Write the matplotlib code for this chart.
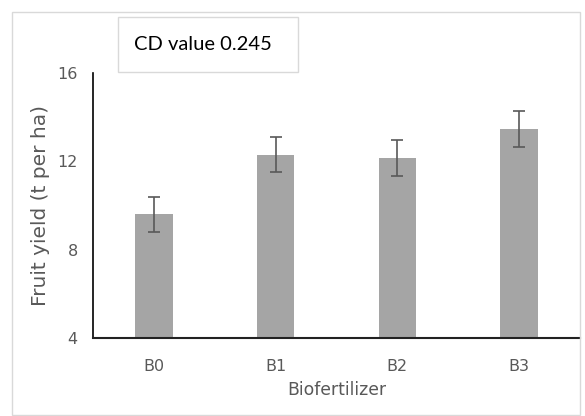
import matplotlib.pyplot as plt
from matplotlib.patches import Rectangle

categories = ["B0", "B1", "B2", "B3"]
yields = [9.6, 12.3, 12.15, 13.45]
errors = [0.8, 0.8, 0.82, 0.82]
yticks = [4, 8, 12, 16]

plt.rcParams['font.family'] = ['DejaVu Sans']

W, H = 585, 416
fig = plt.figure(figsize=(W / 100, H / 100), dpi=100)

# outer chart frame
fig.patches.append(Rectangle((12 / W, 1 / H), 568 / W, 403 / H,
                             transform=fig.transFigure, fill=False,
                             edgecolor="#d9d9d9", linewidth=1))

ax = fig.add_axes([93 / W, 78 / H, 487 / W, 265 / H])
x = range(len(categories))
ax.bar(x, yields, width=0.31, color="#a5a5a5", zorder=2)
ax.errorbar(x, yields, yerr=errors, fmt="none", ecolor="#595959",
            elinewidth=1.2, capsize=4, capthick=1.2, zorder=3)

ax.set_xlim(-0.5, 3.5)
ax.set_ylim(4, 16)
ax.set_yticks(yticks)
ax.set_xticks(list(x))
ax.set_xticklabels(categories)
ax.tick_params(length=0, colors="#595959", labelsize=11.5)
ax.tick_params(axis="y", pad=11)
ax.tick_params(axis="x", pad=15)
for s in ["top", "right"]:
    ax.spines[s].set_visible(False)
ax.spines["left"].set_color("black")
ax.spines["left"].set_linewidth(1.2)
ax.spines["bottom"].set_color("#222222")
ax.spines["bottom"].set_linewidth(1.5)

ax.set_xlabel("Biofertilizer", color="#595959", fontsize=12.4, labelpad=5)
ax.set_ylabel("Fruit yield (t per ha)", color="#595959", fontsize=14.5, labelpad=5)

# CD value box
fig.patches.append(Rectangle((118 / W, 1 - 72 / H), 180 / W, 55 / H,
                             transform=fig.transFigure, facecolor="white",
                             edgecolor="#d9d9d9", linewidth=1))
fig.text(203 / W, 1 - 45 / H, "CD value 0.245", fontsize=14.5,
         family=["Lato", "DejaVu Sans"], ha="center", va="center", color="black")

fig.savefig("out.png", dpi=100)
